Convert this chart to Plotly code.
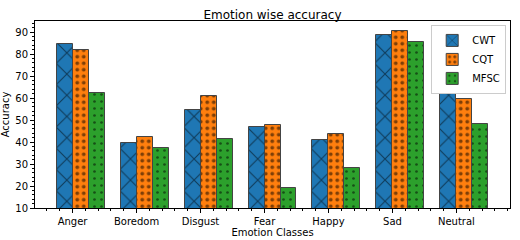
import plotly.graph_objects as go

categories = ["Anger", "Boredom", "Disgust", "Fear", "Happy", "Sad", "Neutral"]
cwt = [84.5, 39.4, 54.5, 46.6, 40.9, 88.8, 69.7]
cqt = [82.0, 42.1, 60.9, 47.9, 43.6, 90.4, 59.5]
mfsc = [62.4, 37.1, 41.2, 19.0, 28.1, 85.6, 48.1]
series_names = ["CWT", "CQT", "MFSC"]
y_ticks = [10, 20, 30, 40, 50, 60, 70, 80, 90]

bw = 0.25
idx = list(range(len(categories)))

fig = go.Figure()
styles = [
    ("#1f77b4", "x", 15, 0.14),
    ("#ff7f0e", ".", 6.5, 0.27),
    ("#2ca02c", ".", 7, 0.12),
]
for k, (name, vals) in enumerate(zip(series_names, [cwt, cqt, mfsc])):
    color, shape, size, sol = styles[k]
    fig.add_trace(go.Bar(
        x=[i + k * bw for i in idx],
        y=vals,
        width=bw,
        name=name,
        marker=dict(
            color=color,
            line=dict(color="#444444", width=1),
            pattern=dict(shape=shape, fgcolor="black", fillmode="overlay",
                         size=size, solidity=sol),
        ),
    ))

fig.update_layout(
    width=520, height=240,
    margin=dict(l=35, r=10, t=21, b=32, autoexpand=False),
    paper_bgcolor="white", plot_bgcolor="white",
    font=dict(family="DejaVu Sans", size=10, color="black"),
    title=dict(text="Emotion wise accuracy", x=0.524, xanchor="center",
               xref="container", yref="container",
               y=0.94, yanchor="middle", font=dict(size=12)),
    barmode="overlay",
    bargap=0,
    showlegend=True,
    legend=dict(x=0.992, y=0.979, xanchor="right", yanchor="top",
                bordercolor="#cccccc", borderwidth=1, bgcolor="white",
                font=dict(size=10), tracegroupgap=0, itemwidth=30,
                entrywidth=0),
    xaxis=dict(
        range=[-0.4625, 6.9625],
        tickvals=[i + bw / 2 for i in idx],
        ticktext=categories,
        ticks="outside", ticklen=4, tickcolor="black",
        showline=True, linecolor="black", linewidth=1, mirror=True,
        showgrid=False, zeroline=False,
        title=dict(text="Emotion Classes", standoff=2, font=dict(size=10)),
        minor=dict(ticks="outside", ticklen=2, dtick=0.2, tick0=0.125,
                   tickcolor="black", showgrid=False),
    ),
    yaxis=dict(
        range=[10, 95],
        tickvals=y_ticks,
        ticks="outside", ticklen=4, tickcolor="black",
        showline=True, linecolor="black", linewidth=1, mirror=True,
        showgrid=False, zeroline=False,
        title=dict(text="Accuracy", standoff=6, font=dict(size=10)),
        minor=dict(ticks="outside", ticklen=2, dtick=2, tick0=10,
                   tickcolor="black", showgrid=False),
    ),
)

fig.write_html("out.html", config={"displayModeBar": False},
               post_script="document.body.style.margin='0';document.body.style.overflow='hidden';")
